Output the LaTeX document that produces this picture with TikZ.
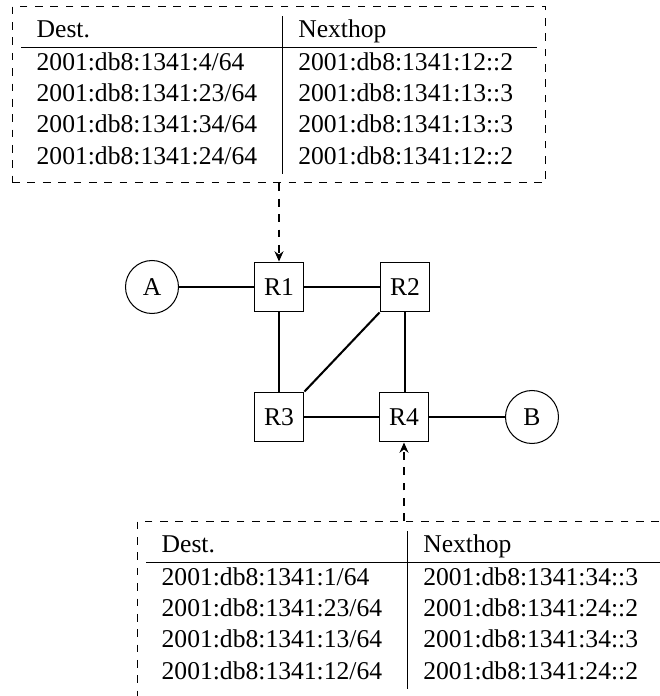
\documentclass[tikz,border=0pt]{standalone}
\usepackage{fontspec}
\setmainfont{Liberation Serif}
\usetikzlibrary{arrows.meta}
\renewcommand{\arraystretch}{1.022}
\begin{document}
\begin{tikzpicture}[x=0.3906pt,y=-0.3906pt,
  router/.style={draw,line width=0.4pt,minimum size=19.5pt,inner sep=0pt},
  host/.style={draw,circle,line width=0.4pt,minimum size=20.7pt,inner sep=0pt},
  link/.style={line width=0.8pt},
  rtable/.style={draw,dashed,line width=0.4pt,inner sep=3.6pt},
  lookup/.style={line width=0.8pt,dashed,-{Stealth[length=4pt,width=3.5pt]}}]
\useasboundingbox (0,0) rectangle (660,696);
\node[host] (A) at (152,287) {A};
\node[router] (R1) at (279,287) {R1};
\node[router] (R2) at (405,287) {R2};
\node[router] (R3) at (279,417) {R3};
\node[router] (R4) at (404,417) {R4};
\node[host] (B) at (532,417) {B};
\draw[link] (A) -- (R1);
\draw[link] (R1) -- (R2);
\draw[link] (R1) -- (R3);
\draw[link] (R2) -- (R4.north -| R2);
\draw[link] (R2.south west) -- (R3.north east);
\draw[link] (R3) -- (R4);
\draw[link] (R4) -- (B);
\node[rtable,anchor=north] (T1) at (279,6) {%
\begin{tabular}{p{90.2pt}|p{87.1pt}}
Dest. & Nexthop\\\hline
2001:db8:1341:4/64 & 2001:db8:1341:12::2\\
2001:db8:1341:23/64 & 2001:db8:1341:13::3\\
2001:db8:1341:34/64 & 2001:db8:1341:13::3\\
2001:db8:1341:24/64 & 2001:db8:1341:12::2
\end{tabular}};
\node[rtable,anchor=north] (T4) at (404,521) {%
\begin{tabular}{p{90.2pt}|p{87.1pt}}
Dest. & Nexthop\\\hline
2001:db8:1341:1/64 & 2001:db8:1341:34::3\\
2001:db8:1341:23/64 & 2001:db8:1341:24::2\\
2001:db8:1341:13/64 & 2001:db8:1341:34::3\\
2001:db8:1341:12/64 & 2001:db8:1341:24::2
\end{tabular}};
\draw[lookup] (T1.south) -- (R1.north);
\draw[lookup] (T4.north) -- (R4.south);
\end{tikzpicture}
\end{document}
